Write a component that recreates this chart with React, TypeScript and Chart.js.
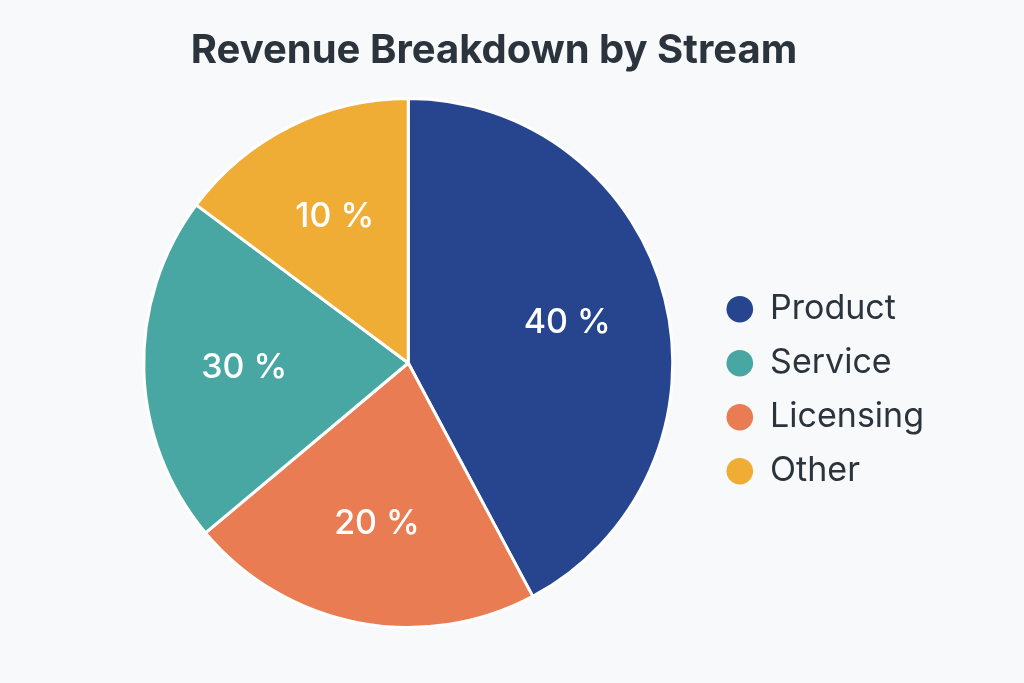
import React, { useEffect, useRef } from "react";
import { Chart, registerables } from "chart.js";

Chart.register(...registerables);

// slice order as drawn clockwise from 12 o'clock
const streams = ["Product", "Licensing", "Service", "Other"];
// shares measured from the slice angles in the picture
const sliceShares = [42.2, 21.7, 21.3, 14.8];
// percentages printed on the slices
const shareLabels = ["40 %", "20 %", "30 %", "10 %"];
const sliceColors = ["#26458e", "#e97c52", "#48a7a2", "#f0ad35"];
// order used by the legend
const legendOrder = ["Product", "Service", "Licensing", "Other"];
const chartTitle = "Revenue Breakdown by Stream";

const BG = "#f8f9fa";
const TEXT = "#2b333d";
const FONT = "Inter, 'Noto Sans', sans-serif";

const sliceLabelPlugin = {
  id: "sliceLabels",
  afterDatasetsDraw(chart: any) {
    const { ctx } = chart;
    const meta = chart.getDatasetMeta(0);
    ctx.save();
    ctx.fillStyle = "#ffffff";
    ctx.font = `500 34px ${FONT}`;
    ctx.textAlign = "center";
    ctx.textBaseline = "middle";
    meta.data.forEach((arc: any, i: number) => {
      const { x, y, startAngle, endAngle, outerRadius } = arc.getProps(
        ["x", "y", "startAngle", "endAngle", "outerRadius"],
        true
      );
      const mid = (startAngle + endAngle) / 2;
      const r = outerRadius * 0.62;
      ctx.fillText(shareLabels[i], x + Math.cos(mid) * r, y + Math.sin(mid) * r);
    });
    ctx.restore();
  },
};

// title sits a bit left of the page centre in the reference
const titlePlugin = {
  id: "offsetTitle",
  afterDraw(chart: any) {
    const { ctx } = chart;
    ctx.save();
    ctx.fillStyle = TEXT;
    ctx.font = `bold 40px ${FONT}`;
    ctx.textAlign = "center";
    ctx.textBaseline = "middle";
    ctx.fillText(chartTitle, 494, 51);
    ctx.restore();
  },
};

const App: React.FC = () => {
  const canvasRef = useRef<HTMLCanvasElement | null>(null);
  const chartRef = useRef<Chart | null>(null);

  useEffect(() => {
    document.body.style.margin = "0";
    document.body.style.background = BG;
    if (!canvasRef.current) return;
    const ctx = canvasRef.current.getContext("2d");
    if (!ctx) return;

    chartRef.current = new Chart(ctx, {
      type: "pie",
      data: {
        labels: streams,
        datasets: [
          {
            data: sliceShares,
            backgroundColor: sliceColors,
            borderColor: "#ffffff",
            borderWidth: 3,
          },
        ],
      },
      options: {
        animation: false,
        responsive: true,
        maintainAspectRatio: false,
        layout: {
          padding: { left: 110, right: 90, top: 97, bottom: 54 },
        },
        plugins: {
          title: { display: false },
          legend: {
            position: "right",
            title: {
              display: true,
              text: "",
              font: { size: 12 },
              padding: 20,
            },
            labels: {
              color: TEXT,
              font: { family: FONT, size: 34 },
              usePointStyle: true,
              pointStyle: "circle",
              boxHeight: 18.8,
              pointStyleWidth: 26.6,
              padding: 20,
              sort: (a: any, b: any) =>
                legendOrder.indexOf(a.text) - legendOrder.indexOf(b.text),
              generateLabels: (chart: any) => {
                const items = (Chart as any).overrides.pie.plugins.legend.labels.generateLabels(chart);
                return items.map((it: any) => ({ ...it, lineWidth: 0 }));
              },
            },
          },
          tooltip: { enabled: false },
        },
      },
      plugins: [sliceLabelPlugin, titlePlugin],
    });

    return () => {
      if (chartRef.current) {
        chartRef.current.destroy();
        chartRef.current = null;
      }
    };
  }, []);

  return (
    <div style={{ position: "relative", width: 1024, height: 683, background: BG }}>
      <canvas ref={canvasRef}></canvas>
    </div>
  );
};

export default App;
